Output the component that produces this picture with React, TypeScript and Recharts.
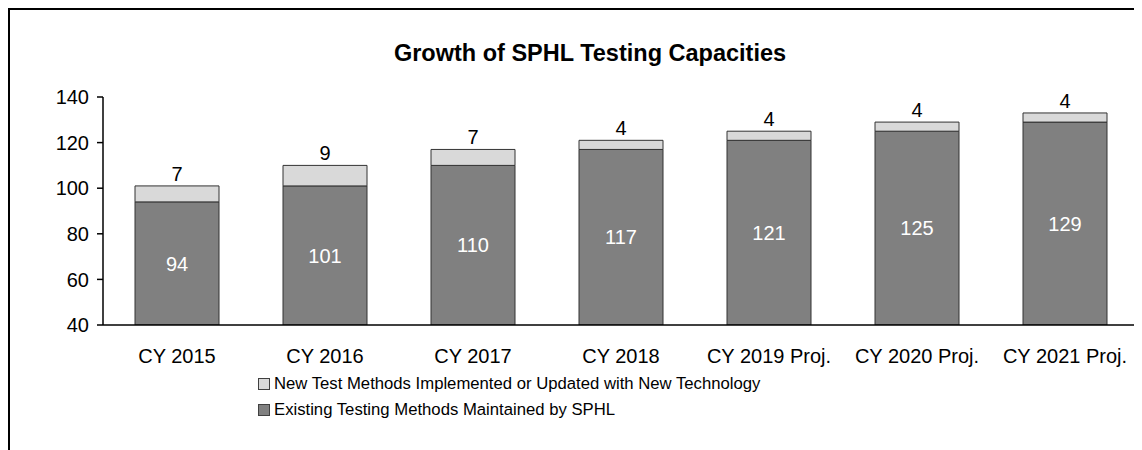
import { BarChart, Bar, XAxis, YAxis, Legend, LabelList } from "recharts";

const years = [
  "CY 2015",
  "CY 2016",
  "CY 2017",
  "CY 2018",
  "CY 2019 Proj.",
  "CY 2020 Proj.",
  "CY 2021 Proj.",
];
const existingMethods = [94, 101, 110, 117, 121, 125, 129];
const newMethods = [7, 9, 7, 4, 4, 4, 4];
const yTicks = [40, 60, 80, 100, 120, 140];

const EXISTING_LABEL = "Existing Testing Methods Maintained by SPHL";
const NEW_LABEL = "New Test Methods Implemented or Updated with New Technology";

const font = "'Liberation Sans', Arial, sans-serif";

const data = years.map((year, i) => ({
  year,
  existing: existingMethods[i],
  added: newMethods[i],
}));

function LegendBox() {
  const rows = [
    { label: NEW_LABEL, fill: "#d9d9d9" },
    { label: EXISTING_LABEL, fill: "#808080" },
  ];
  return (
    <div style={{ fontFamily: font, fontSize: 16.7, color: "#000" }}>
      {rows.map((r) => (
        <div
          key={r.label}
          style={{ display: "flex", alignItems: "center", height: 26, whiteSpace: "nowrap" }}
        >
          <span
            style={{
              display: "inline-block",
              width: 10,
              height: 10,
              background: r.fill,
              border: "1px solid #404040",
              marginRight: 4,
            }}
          />
          {r.label}
        </div>
      ))}
    </div>
  );
}

export default function App() {
  return (
    <div
      style={{
        position: "relative",
        width: 1134,
        height: 442,
        borderTop: "2px solid #000",
        borderLeft: "2px solid #000",
        boxSizing: "border-box",
        overflow: "hidden",
        background: "#fff",
      }}
    >
      <div
        style={{
          position: "absolute",
          left: 0,
          top: 30,
          width: 1160,
          textAlign: "center",
          fontFamily: font,
          fontWeight: "bold",
          fontSize: 23.5,
          lineHeight: "26px",
          color: "#000",
        }}
      >
        Growth of SPHL Testing Capacities
      </div>
      <div style={{ position: "absolute", left: 0, top: 0 }}>
        <BarChart
          width={1132}
          height={440}
          data={data}
          margin={{ top: 87, right: 3, left: 0, bottom: 85 }}
        >
          <XAxis
            dataKey="year"
            height={40}
            tickLine={false}
            tickMargin={18}
            axisLine={{ stroke: "#000", strokeWidth: 1.5 }}
            tick={{ fill: "#000", fontSize: 20, fontFamily: font }}
            interval={0}
          />
          <YAxis
            width={93}
            domain={[40, 140]}
            ticks={yTicks}
            allowDataOverflow
            tickSize={6}
            tickMargin={8}
            axisLine={{ stroke: "#000", strokeWidth: 1.5 }}
            tickLine={{ stroke: "#000", strokeWidth: 1.5 }}
            tick={{ fill: "#000", fontSize: 20, fontFamily: font }}
          />
          <Legend
            layout="vertical"
            align="center"
            verticalAlign="middle"
            wrapperStyle={{ left: 248, top: 361, width: "auto" }}
            content={() => <LegendBox />}
          />
          <Bar
            dataKey="existing"
            name={EXISTING_LABEL}
            stackId="a"
            fill="#808080"
            stroke="#333"
            strokeWidth={1}
            barSize={84}
            isAnimationActive={false}
          >
            <LabelList
              dataKey="existing"
              position="center"
              fill="#fff"
              fontSize={20}
              fontFamily={font}
            />
          </Bar>
          <Bar
            dataKey="added"
            name={NEW_LABEL}
            stackId="a"
            fill="#d9d9d9"
            stroke="#333"
            strokeWidth={1}
            barSize={84}
            isAnimationActive={false}
          >
            <LabelList
              dataKey="added"
              position="top"
              offset={5}
              fill="#000"
              fontSize={20}
              fontFamily={font}
            />
          </Bar>
        </BarChart>
      </div>
    </div>
  );
}
